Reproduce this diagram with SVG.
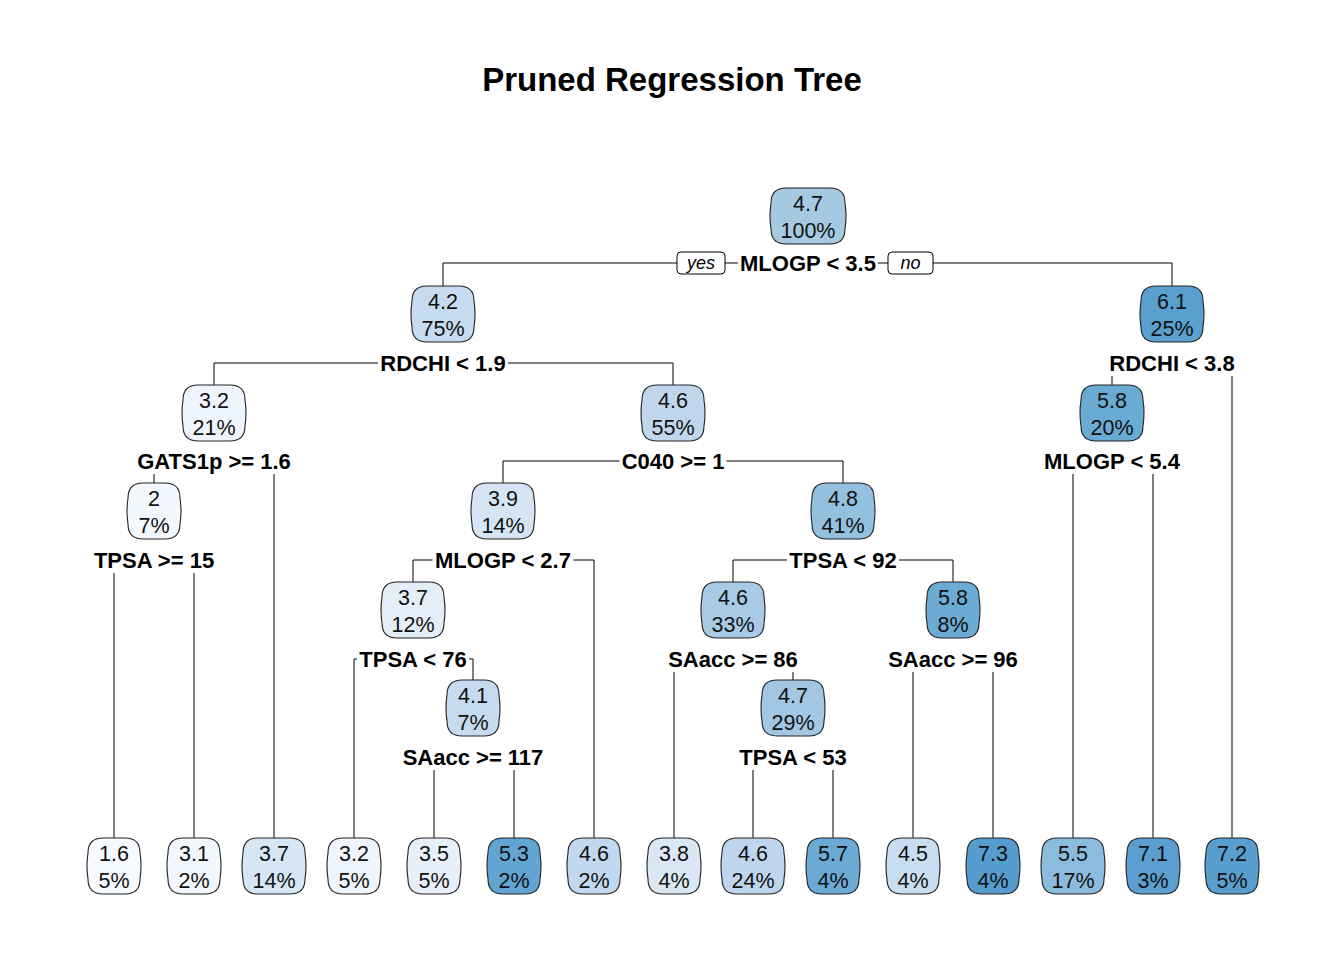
<svg xmlns="http://www.w3.org/2000/svg" xmlns:xlink="http://www.w3.org/1999/xlink" width="1344" height="960" viewBox="0 0 1344 960">
<style>
.t{font-family:"Liberation Sans",Arial,sans-serif;font-size:21.5px;fill:#111;text-anchor:middle}
.l{font-family:"Liberation Sans",Arial,sans-serif;font-size:22px;font-weight:bold;fill:#000;text-anchor:middle}
.yn{font-family:"Liberation Sans",Arial,sans-serif;font-size:18px;font-style:italic;fill:#000;text-anchor:middle}
.title{font-family:"Liberation Sans",Arial,sans-serif;font-size:33px;font-weight:bold;fill:#000;text-anchor:middle}
.box{stroke:#222;stroke-width:1.1}
.c path{fill:none;stroke:#000;stroke-width:1}
</style>
<defs>
<path id="b52" d="M -11,0 H 11 Q 26,0 26,15 Q 28,28 26,41 Q 26,56 11,56 H -11 Q -26,56 -26,41 Q -28,28 -26,15 Q -26,0 -11,0 Z"/>
<path id="b62" d="M -16,0 H 16 Q 31,0 31,15 Q 33,28 31,41 Q 31,56 16,56 H -16 Q -31,56 -31,41 Q -33,28 -31,15 Q -31,0 -16,0 Z"/>
<path id="b74" d="M -22,0 H 22 Q 37,0 37,15 Q 39,28 37,41 Q 37,56 22,56 H -22 Q -37,56 -37,41 Q -39,28 -37,15 Q -37,0 -22,0 Z"/>
</defs>
<rect width="1344" height="960" fill="#fff"/>
<text class="title" x="672" y="91">Pruned Regression Tree</text>

<g class="c" id="connectors">
<path d="M443,286 V263 H677"/>
<path d="M725,263 H738"/>
<path d="M878,263 H888"/>
<path d="M933,263 H1172 V286"/>
<path d="M214,385 V363 H378"/>
<path d="M508,363 H673 V385"/>
<path d="M1112,376 V385"/>
<path d="M1232,376 V838"/>
<path d="M154,474 V483"/>
<path d="M274,474 V838"/>
<path d="M503,483 V461 H619.5"/>
<path d="M726.5,461 H843 V483"/>
<path d="M1073,474 V838"/>
<path d="M1153,474 V838"/>
<path d="M114,573 V838"/>
<path d="M194,573 V838"/>
<path d="M413,582 V560 H432.5"/>
<path d="M573.5,560 H594 V838"/>
<path d="M733,582 V560 H787"/>
<path d="M899,560 H953 V582"/>
<path d="M354,838 V659 H357"/>
<path d="M469,659 H473 V680"/>
<path d="M674,672 V838"/>
<path d="M793,672 V680"/>
<path d="M913,672 V838"/>
<path d="M993,672 V838"/>
<path d="M434,770 V838"/>
<path d="M514,770 V838"/>
<path d="M753,770 V838"/>
<path d="M833,770 V838"/>
</g>

<g id="yesno">
<rect x="677" y="252" width="48" height="22" rx="4" fill="#fff" stroke="#000" stroke-width="1"/>
<text class="yn" x="701" y="269">yes</text>
<rect x="888" y="252" width="45" height="22" rx="4" fill="#fff" stroke="#000" stroke-width="1"/>
<text class="yn" x="910.5" y="269">no</text>
</g>

<g id="labels">
<text class="l" x="808" y="271">MLOGP &lt; 3.5</text>
<text class="l" x="443" y="371">RDCHI &lt; 1.9</text>
<text class="l" x="1172" y="371">RDCHI &lt; 3.8</text>
<text class="l" x="214" y="469">GATS1p &gt;= 1.6</text>
<text class="l" x="673" y="469">C040 &gt;= 1</text>
<text class="l" x="1112" y="469">MLOGP &lt; 5.4</text>
<text class="l" x="154" y="568">TPSA &gt;= 15</text>
<text class="l" x="503" y="568">MLOGP &lt; 2.7</text>
<text class="l" x="843" y="568">TPSA &lt; 92</text>
<text class="l" x="413" y="667">TPSA &lt; 76</text>
<text class="l" x="733" y="667">SAacc &gt;= 86</text>
<text class="l" x="953" y="667">SAacc &gt;= 96</text>
<text class="l" x="473" y="765">SAacc &gt;= 117</text>
<text class="l" x="793" y="765">TPSA &lt; 53</text>
</g>

<g id="n1"><use href="#b74" x="808" y="188" class="box" fill="#A6C9E2"/><text class="t" x="808" y="210.5">4.7</text><text class="t" x="808" y="237.5">100%</text></g>
<g id="n2"><use href="#b62" x="443" y="286" class="box" fill="#C6DBEF"/><text class="t" x="443" y="308.5">4.2</text><text class="t" x="443" y="335.5">75%</text></g>
<g id="n3"><use href="#b62" x="1172" y="286" class="box" fill="#5AA0CF"/><text class="t" x="1172" y="308.5">6.1</text><text class="t" x="1172" y="335.5">25%</text></g>
<g id="n4"><use href="#b62" x="214" y="385" class="box" fill="#EFF5FC"/><text class="t" x="214" y="407.5">3.2</text><text class="t" x="214" y="434.5">21%</text></g>
<g id="n5"><use href="#b62" x="673" y="385" class="box" fill="#BFD6ED"/><text class="t" x="673" y="407.5">4.6</text><text class="t" x="673" y="434.5">55%</text></g>
<g id="n6"><use href="#b62" x="1112" y="385" class="box" fill="#6AABD4"/><text class="t" x="1112" y="407.5">5.8</text><text class="t" x="1112" y="434.5">20%</text></g>
<g id="n7"><use href="#b52" x="154" y="483" class="box" fill="#F3F8FE"/><text class="t" x="154" y="505.5">2</text><text class="t" x="154" y="532.5">7%</text></g>
<g id="n8"><use href="#b62" x="503" y="483" class="box" fill="#D5E5F4"/><text class="t" x="503" y="505.5">3.9</text><text class="t" x="503" y="532.5">14%</text></g>
<g id="n9"><use href="#b62" x="843" y="483" class="box" fill="#93C0DF"/><text class="t" x="843" y="505.5">4.8</text><text class="t" x="843" y="532.5">41%</text></g>
<g id="n10"><use href="#b62" x="413" y="582" class="box" fill="#E3EEF9"/><text class="t" x="413" y="604.5">3.7</text><text class="t" x="413" y="631.5">12%</text></g>
<g id="n11"><use href="#b62" x="733" y="582" class="box" fill="#A8CAE4"/><text class="t" x="733" y="604.5">4.6</text><text class="t" x="733" y="631.5">33%</text></g>
<g id="n12"><use href="#b52" x="953" y="582" class="box" fill="#6CABD4"/><text class="t" x="953" y="604.5">5.8</text><text class="t" x="953" y="631.5">8%</text></g>
<g id="n13"><use href="#b52" x="473" y="680" class="box" fill="#C6DBEF"/><text class="t" x="473" y="702.5">4.1</text><text class="t" x="473" y="729.5">7%</text></g>
<g id="n14"><use href="#b62" x="793" y="680" class="box" fill="#A3C7E2"/><text class="t" x="793" y="702.5">4.7</text><text class="t" x="793" y="729.5">29%</text></g>

<g id="leaf1"><use href="#b52" x="114" y="838" class="box" fill="#F7FBFF"/><text class="t" x="114" y="860.5">1.6</text><text class="t" x="114" y="887.5">5%</text></g>
<g id="leaf2"><use href="#b52" x="194" y="838" class="box" fill="#F2F7FD"/><text class="t" x="194" y="860.5">3.1</text><text class="t" x="194" y="887.5">2%</text></g>
<g id="leaf3"><use href="#b62" x="274" y="838" class="box" fill="#D6E6F4"/><text class="t" x="274" y="860.5">3.7</text><text class="t" x="274" y="887.5">14%</text></g>
<g id="leaf4"><use href="#b52" x="354" y="838" class="box" fill="#EEF5FC"/><text class="t" x="354" y="860.5">3.2</text><text class="t" x="354" y="887.5">5%</text></g>
<g id="leaf5"><use href="#b52" x="434" y="838" class="box" fill="#E7F0FA"/><text class="t" x="434" y="860.5">3.5</text><text class="t" x="434" y="887.5">5%</text></g>
<g id="leaf6"><use href="#b52" x="514" y="838" class="box" fill="#62A5D2"/><text class="t" x="514" y="860.5">5.3</text><text class="t" x="514" y="887.5">2%</text></g>
<g id="leaf7"><use href="#b52" x="594" y="838" class="box" fill="#C2D8EE"/><text class="t" x="594" y="860.5">4.6</text><text class="t" x="594" y="887.5">2%</text></g>
<g id="leaf8"><use href="#b52" x="674" y="838" class="box" fill="#DAE8F5"/><text class="t" x="674" y="860.5">3.8</text><text class="t" x="674" y="887.5">4%</text></g>
<g id="leaf9"><use href="#b62" x="753" y="838" class="box" fill="#BED6ED"/><text class="t" x="753" y="860.5">4.6</text><text class="t" x="753" y="887.5">24%</text></g>
<g id="leaf10"><use href="#b52" x="833" y="838" class="box" fill="#6BAAD4"/><text class="t" x="833" y="860.5">5.7</text><text class="t" x="833" y="887.5">4%</text></g>
<g id="leaf11"><use href="#b52" x="913" y="838" class="box" fill="#C9DDF0"/><text class="t" x="913" y="860.5">4.5</text><text class="t" x="913" y="887.5">4%</text></g>
<g id="leaf12"><use href="#b52" x="993" y="838" class="box" fill="#559DCE"/><text class="t" x="993" y="860.5">7.3</text><text class="t" x="993" y="887.5">4%</text></g>
<g id="leaf13"><use href="#b62" x="1073" y="838" class="box" fill="#8BBCDD"/><text class="t" x="1073" y="860.5">5.5</text><text class="t" x="1073" y="887.5">17%</text></g>
<g id="leaf14"><use href="#b52" x="1153" y="838" class="box" fill="#5A9FCF"/><text class="t" x="1153" y="860.5">7.1</text><text class="t" x="1153" y="887.5">3%</text></g>
<g id="leaf15"><use href="#b52" x="1232" y="838" class="box" fill="#589ECF"/><text class="t" x="1232" y="860.5">7.2</text><text class="t" x="1232" y="887.5">5%</text></g>
</svg>
